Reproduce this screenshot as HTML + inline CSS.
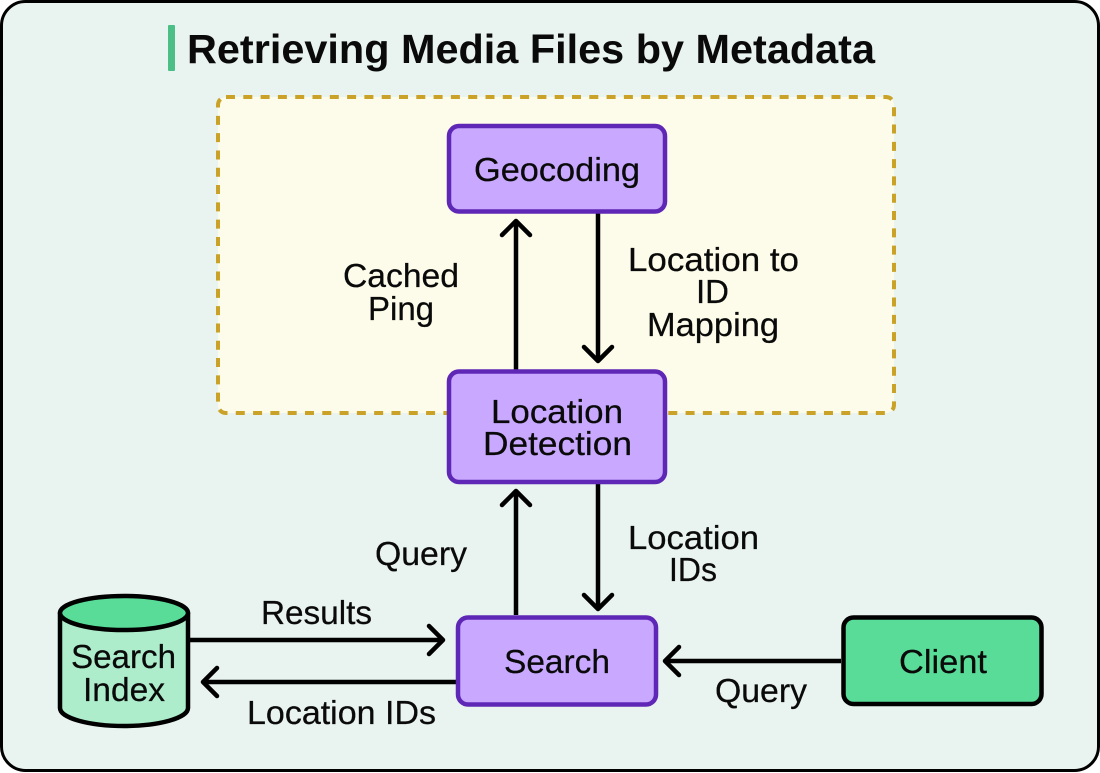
<!DOCTYPE html>
<html>
<head>
<meta charset="utf-8">
<style>
html,body{margin:0;padding:0;background:#fff;width:1100px;height:773px;overflow:hidden}
svg{display:block}
text{font-family:"Liberation Sans",sans-serif;font-size:33px;fill:#0a0a0a;stroke:#0a0a0a;stroke-width:.25px}
</style>
</head>
<body>
<svg width="1100" height="773" viewBox="0 0 1100 773" xmlns="http://www.w3.org/2000/svg">
<rect x="1.5" y="1.5" width="1097" height="769" rx="24" fill="#e9f3ef" stroke="#000" stroke-width="3"/>
<rect x="168" y="25" width="7" height="46" rx="1" fill="#4cbf87"/>
<text x="187" y="63" style="font-size:41px;font-weight:700;stroke-width:0" textLength="688" lengthAdjust="spacingAndGlyphs">Retrieving Media Files by Metadata</text>

<rect x="218" y="97" width="676" height="316" rx="8" fill="#fdfbe9" stroke="#c9a227" stroke-width="4" stroke-dasharray="9 8.3"/>

<g fill="none" stroke="#000" stroke-width="4.5" stroke-linejoin="round">
<path d="M516 370V222"/><path d="M502 235L516 221L530 235" stroke-linecap="round"/>
<path d="M598 213V360"/><path d="M584 347L598 361L612 347" stroke-linecap="round"/>
<path d="M516 615V492"/><path d="M502 505L516 491L530 505" stroke-linecap="round"/>
<path d="M598 484V608"/><path d="M584 595L598 609L612 595" stroke-linecap="round"/>
<path d="M190 640H442"/><path d="M429 626L443 640L429 654" stroke-linecap="round"/>
<path d="M456 682H204"/><path d="M217 668L203 682L217 696" stroke-linecap="round"/>
<path d="M841 661H666"/><path d="M679 647L665 661L679 675" stroke-linecap="round"/>
</g>

<rect x="449" y="126" width="216" height="85.5" rx="10" fill="#c9a9ff" stroke="#5f27b5" stroke-width="4.5"/>
<rect x="449" y="371.5" width="216" height="110.5" rx="10" fill="#c9a9ff" stroke="#5f27b5" stroke-width="4.5"/>
<rect x="458" y="617.5" width="198" height="87" rx="10" fill="#c9a9ff" stroke="#5f27b5" stroke-width="4.5"/>
<rect x="843.5" y="617.5" width="198" height="86.5" rx="10" fill="#58dc98" stroke="#000" stroke-width="4.5"/>

<path d="M60 613V708C60 718 89 726 124 726C159 726 188 718 188 708V613Z" fill="#adedcb" stroke="#000" stroke-width="4.5" stroke-linejoin="round"/>
<ellipse cx="124" cy="613" rx="64" ry="17" fill="#58dc98" stroke="#000" stroke-width="4.5"/>

<text x="474" y="181" textLength="166" lengthAdjust="spacingAndGlyphs">Geocoding</text>
<text x="628" y="271" textLength="171" lengthAdjust="spacingAndGlyphs">Location to</text>
<text x="696" y="303" textLength="33" lengthAdjust="spacingAndGlyphs">ID</text>
<text x="647" y="336" textLength="132" lengthAdjust="spacingAndGlyphs">Mapping</text>
<text x="343" y="287" textLength="116" lengthAdjust="spacingAndGlyphs">Cached</text>
<text x="368" y="320" textLength="66" lengthAdjust="spacingAndGlyphs">Ping</text>
<text x="491" y="423" textLength="132" lengthAdjust="spacingAndGlyphs">Location</text>
<text x="483" y="455" textLength="149" lengthAdjust="spacingAndGlyphs">Detection</text>
<text x="375" y="565" textLength="92" lengthAdjust="spacingAndGlyphs">Query</text>
<text x="628" y="549" textLength="131" lengthAdjust="spacingAndGlyphs">Location</text>
<text x="669" y="581" textLength="48" lengthAdjust="spacingAndGlyphs">IDs</text>
<text x="261" y="624" textLength="111" lengthAdjust="spacingAndGlyphs">Results</text>
<text x="504" y="673" textLength="106" lengthAdjust="spacingAndGlyphs">Search</text>
<text x="899" y="673" textLength="88" lengthAdjust="spacingAndGlyphs">Client</text>
<text x="715" y="702" textLength="92" lengthAdjust="spacingAndGlyphs">Query</text>
<text x="247" y="724" textLength="189" lengthAdjust="spacingAndGlyphs">Location IDs</text>
<text x="71" y="668" textLength="105" lengthAdjust="spacingAndGlyphs">Search</text>
<text x="83" y="701" textLength="82" lengthAdjust="spacingAndGlyphs">Index</text>
</svg>
</body>
</html>
